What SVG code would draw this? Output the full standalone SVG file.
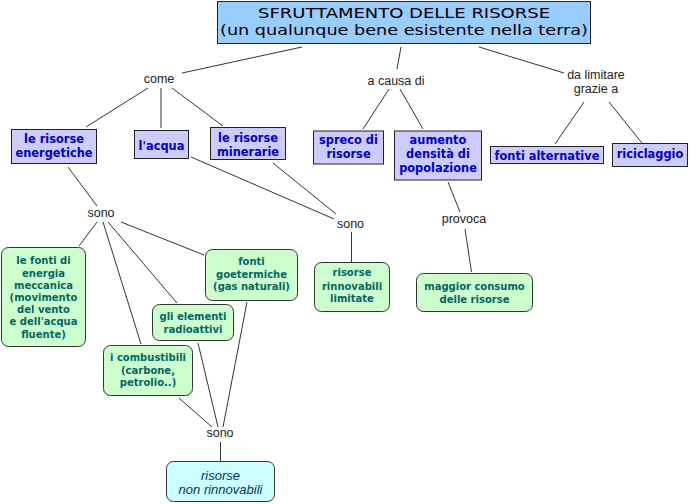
<svg xmlns="http://www.w3.org/2000/svg" width="692" height="504" viewBox="0 0 692 504">
<style>
.bg{fill:#ffffff}
.title{fill:#99ccff;stroke:#222;stroke-width:1}
.tt{font-family:"DejaVu Sans",Verdana,sans-serif;font-size:14px;fill:#000;text-anchor:middle}
.bn{fill:#ccccff;stroke:#222;stroke-width:1}
.bt{font-family:"DejaVu Sans",Verdana,sans-serif;font-weight:bold;font-size:11.4px;fill:#0000cc;text-anchor:middle}
.gn{fill:#ccffcc;stroke:#333;stroke-width:1}
.gt{font-family:"DejaVu Sans",Verdana,sans-serif;font-weight:bold;font-size:10px;fill:#006666;text-anchor:middle}
.cn{fill:#ccffff;stroke:#333;stroke-width:1}
.ct{font-family:"Liberation Sans",Arial,sans-serif;font-style:italic;font-size:13px;fill:#003366;text-anchor:middle}
.lp{font-family:"Liberation Sans",Arial,sans-serif;font-size:12.5px;fill:#222;text-anchor:middle}
.c line{stroke:#333;stroke-width:1}
</style>
<rect class="bg" x="0" y="0" width="692" height="504"/>
<g id="connectors" class="c">
<line x1="302" y1="47" x2="182" y2="73"/>
<line x1="401" y1="47" x2="397" y2="69"/>
<line x1="479" y1="47" x2="564" y2="73"/>
<line x1="148" y1="88" x2="86" y2="127"/>
<line x1="161" y1="88" x2="161" y2="128"/>
<line x1="172" y1="88" x2="223" y2="126"/>
<line x1="191" y1="157" x2="334" y2="219"/>
<line x1="273" y1="163" x2="336" y2="214"/>
<line x1="351.5" y1="232" x2="351.5" y2="262"/>
<line x1="389" y1="89" x2="363" y2="129"/>
<line x1="400" y1="89" x2="423" y2="129"/>
<line x1="448" y1="182" x2="460" y2="212"/>
<line x1="465" y1="229" x2="471.5" y2="272"/>
<line x1="584" y1="102" x2="555" y2="144"/>
<line x1="609" y1="102" x2="642" y2="143"/>
<line x1="68" y1="167" x2="97" y2="206"/>
<line x1="97" y1="222" x2="79" y2="246"/>
<line x1="103" y1="222" x2="141" y2="344"/>
<line x1="108" y1="222" x2="177" y2="303"/>
<line x1="121" y1="222" x2="204" y2="255"/>
<line x1="179" y1="398" x2="212" y2="427"/>
<line x1="198" y1="343" x2="218" y2="427"/>
<line x1="247" y1="302" x2="223" y2="427"/>
<line x1="220.5" y1="442" x2="220.5" y2="461"/>
</g>
<g id="n-title">
<rect class="title" x="217.5" y="1.5" width="373" height="42"/>
<text class="tt" x="404" y="18" textLength="292" lengthAdjust="spacingAndGlyphs">SFRUTTAMENTO DELLE RISORSE</text>
<text class="tt" x="404" y="35" textLength="368" lengthAdjust="spacingAndGlyphs">(un qualunque bene esistente nella terra)</text>
</g>
<g id="lp-come"><text class="lp" x="159" y="83">come</text></g>
<g id="lp-causa"><text class="lp" x="396" y="84.5">a causa di</text></g>
<g id="lp-limitare"><text class="lp" x="596" y="79">da limitare</text><text class="lp" x="596" y="93">grazie a</text></g>
<g id="n-energetiche">
<rect class="bn" x="11.5" y="129.5" width="85" height="34"/>
<text class="bt" x="54" y="143">le risorse</text>
<text class="bt" x="54" y="156.5">energetiche</text>
</g>
<g id="n-acqua">
<rect class="bn" x="134.5" y="130.5" width="54" height="28"/>
<text class="bt" x="161.5" y="150">l'acqua</text>
</g>
<g id="n-minerarie">
<rect class="bn" x="210.5" y="127.5" width="75" height="32"/>
<text class="bt" x="248" y="141.5">le risorse</text>
<text class="bt" x="248" y="155.5">minerarie</text>
</g>
<g id="n-spreco">
<rect class="bn" x="313.5" y="131" width="70" height="33"/>
<text class="bt" x="348.5" y="143.5">spreco di</text>
<text class="bt" x="348.5" y="158">risorse</text>
</g>
<g id="n-aumento">
<rect class="bn" x="394.5" y="131" width="87" height="49"/>
<text class="bt" x="438" y="144">aumento</text>
<text class="bt" x="438" y="158">densità di</text>
<text class="bt" x="438" y="172">popolazione</text>
</g>
<g id="n-fonti-alt">
<rect class="bn" x="490.5" y="146.5" width="113" height="17"/>
<text class="bt" x="547" y="159.5">fonti alternative</text>
</g>
<g id="n-riciclaggio">
<rect class="bn" x="612.5" y="143.5" width="75" height="23"/>
<text class="bt" x="650" y="158">riciclaggio</text>
</g>
<g id="lp-sono1"><text class="lp" x="101" y="217">sono</text></g>
<g id="lp-sono2"><text class="lp" x="350.5" y="227.5">sono</text></g>
<g id="lp-provoca"><text class="lp" x="464" y="222.5">provoca</text></g>
<g id="lp-sono3"><text class="lp" x="220" y="437">sono</text></g>
<g id="n-meccanica">
<rect class="gn" x="1.5" y="247.5" width="84" height="99" rx="7"/>
<text class="gt" x="43.5" y="264.3">le fonti di</text>
<text class="gt" x="43.5" y="276.5">energia</text>
<text class="gt" x="43.5" y="288.7">meccanica</text>
<text class="gt" x="43.5" y="300.9">(movimento</text>
<text class="gt" x="43.5" y="313.1">del vento</text>
<text class="gt" x="43.5" y="325.3">e dell'acqua</text>
<text class="gt" x="43.5" y="337.5">fluente)</text>
</g>
<g id="n-goetermiche">
<rect class="gn" x="205.5" y="249.5" width="92" height="51" rx="7"/>
<text class="gt" x="251.5" y="265.3">fonti</text>
<text class="gt" x="251.5" y="277.7">goetermiche</text>
<text class="gt" x="251.5" y="289.9">(gas naturali)</text>
</g>
<g id="n-radioattivi">
<rect class="gn" x="152.5" y="304.5" width="81" height="36" rx="7"/>
<text class="gt" x="193" y="320.3">gli elementi</text>
<text class="gt" x="193" y="332.7">radioattivi</text>
</g>
<g id="n-combustibili">
<rect class="gn" x="103.5" y="345.5" width="89" height="50" rx="7"/>
<text class="gt" x="148" y="361.3">i combustibili</text>
<text class="gt" x="148" y="373.7">(carbone,</text>
<text class="gt" x="148" y="385.9">petrolio..)</text>
</g>
<g id="n-rinnovabili">
<rect class="gn" x="314.5" y="262.5" width="75" height="49" rx="7"/>
<text class="gt" x="352" y="276">risorse</text>
<text class="gt" x="352" y="289.5">rinnovabili</text>
<text class="gt" x="352" y="302">limitate</text>
</g>
<g id="n-consumo">
<rect class="gn" x="416.5" y="273.5" width="116" height="38" rx="7"/>
<text class="gt" x="474.5" y="290">maggior consumo</text>
<text class="gt" x="474.5" y="302.5">delle risorse</text>
</g>
<g id="n-nonrinnovabili">
<rect class="cn" x="166.5" y="461.5" width="108" height="40" rx="7"/>
<text class="ct" x="220.5" y="479.5">risorse</text>
<text class="ct" x="220.5" y="493.5">non rinnovabili</text>
</g>
</svg>
